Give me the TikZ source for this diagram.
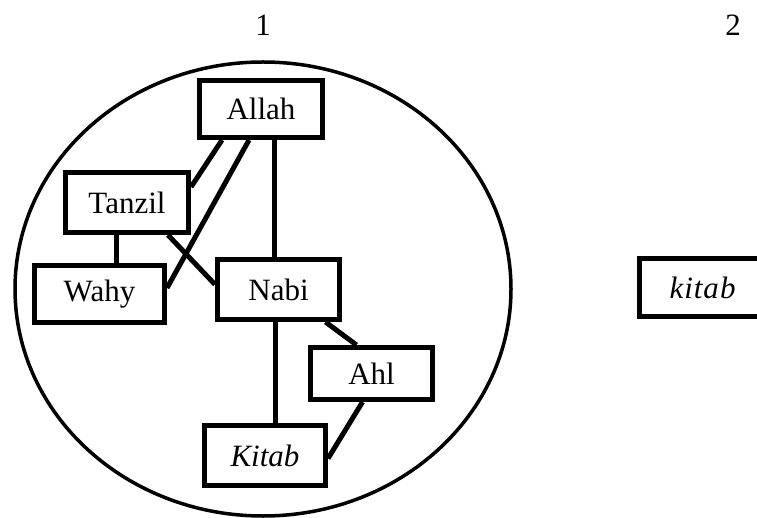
\documentclass[tikz,border=0pt]{standalone}
\usepackage{fontspec}
\setmainfont{Liberation Serif}
\begin{document}
\begin{tikzpicture}[x=1pt,y=-1pt,
  box/.style={draw,line width=5pt,rectangle,inner sep=0pt,font=\fontsize{31}{36}\selectfont},
  conn/.style={line width=5pt},
  lbl/.style={font=\fontsize{31}{36}\selectfont,inner sep=0pt}]
\clip (0,0) rectangle (757,518);
\draw[line width=3.5pt] (263,289) ellipse [x radius=248pt, y radius=227pt];
\node[lbl] (one) at (263,25) {1};
\node[lbl] (two) at (733,25) {2};
\node[box,minimum width=123pt,minimum height=57pt] (allah) at (261,109) {Allah};
\node[box,minimum width=123pt,minimum height=60pt] (tanzil) at (127,202.5) {Tanzil};
\node[box,minimum width=130pt,minimum height=57pt] (wahy) at (99.5,294) {Wahy};
\node[box,minimum width=122pt,minimum height=60pt] (nabi) at (278.5,289.5) {Nabi};
\node[box,minimum width=122pt,minimum height=52pt] (ahl) at (371.5,373.5) {Ahl};
\node[box,minimum width=121pt,minimum height=60pt] (kitab) at (265,455.5) {\itshape Kitab};
\node[box,minimum width=128pt,minimum height=58pt] (kitab2) at (703.5,287.5) {\itshape k\kern1pt i\kern1pt t\kern1pt a\kern1pt b\kern 2pt};
\draw[conn] ([xshift=-39pt]allah.south) -- ([yshift=15.5pt]tanzil.east);
\draw[conn] ([xshift=-12pt]allah.south) -- ([yshift=6pt]wahy.east);
\draw[conn] ([xshift=13pt]allah.south) -- ([xshift=13pt]allah.south |- nabi.north);
\draw[conn] ([xshift=-11pt]tanzil.south) -- ([xshift=-11pt]tanzil.south |- wahy.north);
\draw[conn] ([xshift=41pt]tanzil.south) -- ([yshift=5pt]nabi.west);
\draw[conn] ([xshift=-3.5pt]nabi.south) -- ([xshift=-3.5pt]nabi.south |- kitab.north);
\draw[conn] ([xshift=47pt]nabi.south) -- ([xshift=-15pt]ahl.north);
\draw[conn] ([xshift=-9pt]ahl.south) -- ([yshift=-3pt]kitab.east);
\end{tikzpicture}
\end{document}
